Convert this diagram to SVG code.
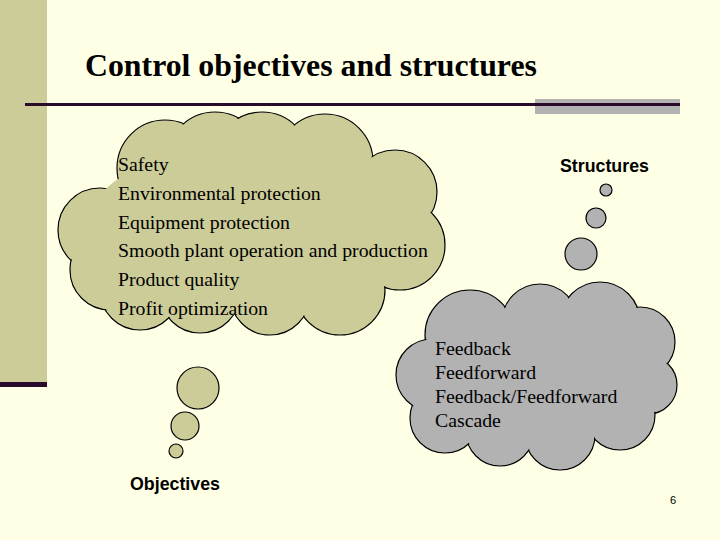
<svg xmlns="http://www.w3.org/2000/svg" width="720" height="540" viewBox="0 0 720 540">
<style>
.o{fill:#CCCC99}
.g{fill:#B2B2B2}
.s{stroke:#000;stroke-width:1.2}
.t{font-family:"Liberation Serif",serif;font-size:19.8px;fill:#000}
.b{font-family:"Liberation Sans",sans-serif;font-size:17.8px;font-weight:bold;fill:#000}
</style>
<rect width="720" height="540" fill="#FFFFE5"/>
<rect x="0" y="0" width="47" height="384" fill="#CCCC99"/>
<rect x="0" y="382" width="47" height="5" fill="#2A0A2A"/>
<rect x="535" y="99" width="145" height="15" fill="#B2B2B2"/>
<rect x="25" y="103" width="655" height="3" fill="#2A0A2A"/>
<text x="85" y="76" font-family="Liberation Serif,serif" font-size="31.8" font-weight="bold">Control objectives and structures</text>
<g id="objectives">
<g class="o s">
<circle cx="165" cy="168" r="48"/><circle cx="215" cy="160" r="48"/><circle cx="262" cy="160" r="48"/><circle cx="325" cy="162" r="48"/>
<circle cx="395" cy="192" r="42"/><circle cx="400" cy="245" r="45"/><circle cx="340" cy="290" r="45"/><circle cx="270" cy="295" r="40"/>
<circle cx="200" cy="293" r="40"/><circle cx="140" cy="290" r="40"/><circle cx="100" cy="230" r="42"/><circle cx="110" cy="270" r="40"/>
</g>
<g class="o">
<circle cx="165" cy="168" r="47"/><circle cx="215" cy="160" r="47"/><circle cx="262" cy="160" r="47"/><circle cx="325" cy="162" r="47"/>
<circle cx="395" cy="192" r="41"/><circle cx="400" cy="245" r="44"/><circle cx="340" cy="290" r="44"/><circle cx="270" cy="295" r="39"/>
<circle cx="200" cy="293" r="39"/><circle cx="140" cy="290" r="39"/><circle cx="100" cy="230" r="41"/><circle cx="110" cy="270" r="39"/>
<ellipse cx="250" cy="230" rx="165" ry="85"/>
</g>
<circle class="o s" cx="198" cy="388" r="21"/><circle class="o s" cx="185" cy="426" r="14"/><circle class="o s" cx="176" cy="451" r="7"/>
<text class="t" x="118" y="171">Safety</text>
<text class="t" x="118" y="200">Environmental protection</text>
<text class="t" x="118" y="229">Equipment protection</text>
<text class="t" x="118" y="257">Smooth plant operation and production</text>
<text class="t" x="118" y="286">Product quality</text>
<text class="t" x="118" y="315">Profit optimization</text>
<text class="b" x="130" y="490">Objectives</text>
</g>
<g id="structures">
<g class="g s">
<circle cx="470" cy="335" r="45"/><circle cx="540" cy="322" r="38"/><circle cx="600" cy="322" r="40"/><circle cx="640" cy="342" r="35"/>
<circle cx="648" cy="385" r="29"/><circle cx="620" cy="415" r="35"/><circle cx="560" cy="435" r="35"/><circle cx="500" cy="432" r="34"/>
<circle cx="445" cy="418" r="35"/><circle cx="432" cy="375" r="36"/>
</g>
<g class="g">
<circle cx="470" cy="335" r="44"/><circle cx="540" cy="322" r="37"/><circle cx="600" cy="322" r="39"/><circle cx="640" cy="342" r="34"/>
<circle cx="648" cy="385" r="28"/><circle cx="620" cy="415" r="34"/><circle cx="560" cy="435" r="34"/><circle cx="500" cy="432" r="33"/>
<circle cx="445" cy="418" r="34"/><circle cx="432" cy="375" r="35"/>
<ellipse cx="540" cy="380" rx="110" ry="60"/>
</g>
<circle class="g s" cx="581" cy="254" r="16"/><circle class="g s" cx="596" cy="218" r="10"/><circle class="g s" cx="606" cy="190" r="6"/>
<text class="t" x="435" y="355">Feedback</text>
<text class="t" x="435" y="379">Feedforward</text>
<text class="t" x="435" y="403">Feedback/Feedforward</text>
<text class="t" x="435" y="427">Cascade</text>
<text class="b" x="560" y="172">Structures</text>
</g>
<text x="670" y="504" font-family="Liberation Sans,sans-serif" font-size="11">6</text>
</svg>
